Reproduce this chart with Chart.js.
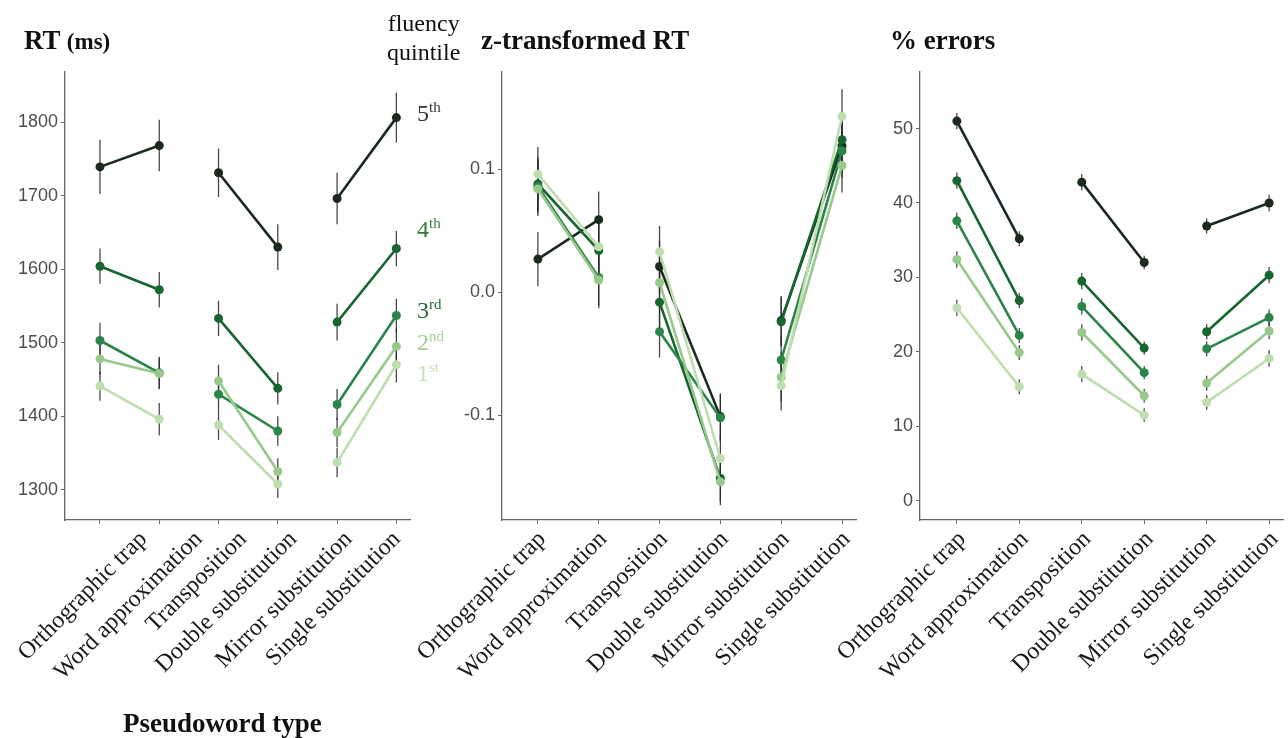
<!DOCTYPE html>
<html lang="en">
<head>
    <meta charset="UTF-8">
    <title>Pseudoword type by fluency quintile</title>
    <script src="https://cdn.jsdelivr.net/npm/chart.js"></script>
    <style>
        body {
            margin: 0;
            background: #ffffff;
        }

        #wrap {
            position: relative;
            width: 1288px;
            height: 738px;
            overflow: hidden;
        }

        canvas {
            position: absolute;
            left: 0;
            top: 0;
        }

        .txt {
            position: absolute;
            font-family: 'Liberation Serif', 'Times New Roman', serif;
            white-space: nowrap;
            line-height: 1;
        }

        .title {
            font-weight: bold;
            font-size: 27px;
            color: #111;
        }

        .q {
            font-size: 24px;
        }

        .q sup {
            font-size: 15px;
            vertical-align: 9px;
        }
    </style>
</head>
<body>
<div id="wrap">
    <canvas id="rtChart" width="1288" height="738"></canvas>
    <canvas id="zChart" width="1288" height="738"></canvas>
    <canvas id="errChart" width="1288" height="738"></canvas>

    <div class="txt title" style="left:24px; top:27px;">RT <span style="font-size:23px;">(ms)</span></div>
    <div class="txt title" style="left:481px; top:27px;">z-transformed RT</div>
    <div class="txt title" style="left:890px; top:27px;">% errors</div>
    <div class="txt" style="left:387px; top:9px; font-size:24px; color:#111; text-align:center; line-height:29px;">fluency<br>quintile</div>

    <div class="txt q" style="left:417px; top:100px; color:#333333;">5<sup>th</sup></div>
    <div class="txt q" style="left:417px; top:216px; color:#2d7a3c;">4<sup>th</sup></div>
    <div class="txt q" style="left:417px; top:297px; color:#1f6a37;">3<sup>rd</sup></div>
    <div class="txt q" style="left:417px; top:329px; color:#a3cf95;">2<sup>nd</sup></div>
    <div class="txt q" style="left:417px; top:360px; color:#c6e2b7;">1<sup>st</sup></div>

    <div class="txt title" style="left:123px; top:710px;">Pseudoword type</div>
</div>

<script>
    // categories and series
    const categories = ['Orthographic trap', 'Word approximation', 'Transposition',
        'Double substitution', 'Mirror substitution', 'Single substitution'];
    const quintiles = ['1st', '2nd', '3rd', '4th', '5th'];
    const colors = ['#bedeaf', '#96c98a', '#2b8548', '#17652f', '#1b2a1e'];

    // RT (ms)
    const rt1 = [1441, 1396, 1388, 1308, 1337, 1470];
    const rt2 = [1478, 1458, 1448, 1325, 1378, 1495];
    const rt3 = [1503, 1459, 1430, 1380, 1416, 1537];
    const rt4 = [1604, 1572, 1533, 1438, 1528, 1628];
    const rt5 = [1739, 1768, 1731, 1630, 1696, 1806];
    const rtSe1 = [20, 22, 20, 19, 20, 24];
    const rtSe2 = [22, 21, 22, 18, 20, 24];
    const rtSe3 = [24, 22, 22, 20, 21, 23];
    const rtSe4 = [24, 24, 24, 22, 25, 24];
    const rtSe5 = [37, 35, 33, 31, 35, 34];
    const rtTicks = [1300, 1400, 1500, 1600, 1700, 1800];

    // z-transformed RT
    const z1 = [0.096, 0.037, 0.033, -0.135, -0.076, 0.143];
    const z2 = [0.084, 0.010, 0.008, -0.154, -0.069, 0.103];
    const z3 = [0.086, 0.012, -0.032, -0.102, -0.055, 0.115];
    const z4 = [0.088, 0.034, -0.008, -0.151, -0.024, 0.124];
    const z5 = [0.027, 0.059, 0.021, -0.101, -0.023, 0.119];
    const zSe = [0.022, 0.023, 0.021, 0.019, 0.020, 0.022];
    const zTicks = [-0.1, 0.0, 0.1];

    // % errors
    const e1 = [25.9, 15.3, 17.0, 11.5, 13.2, 19.1];
    const e2 = [32.4, 19.9, 22.6, 14.1, 15.8, 22.8];
    const e3 = [37.6, 22.2, 26.1, 17.2, 20.4, 24.6];
    const e4 = [43.0, 26.9, 29.5, 20.5, 22.7, 30.3];
    const e5 = [51.0, 35.2, 42.8, 32.0, 36.9, 40.0];
    const errSe = [1.1, 1.0, 1.1, 0.9, 1.0, 1.1];
    const errTicks = [0, 10, 20, 30, 40, 50];

    // vertical error bars behind the points
    const errorBars = {
        id: 'errorBars',
        beforeDatasetsDraw(chart) {
            const ctx = chart.ctx;
            const yScale = chart.scales.y;
            ctx.save();
            ctx.strokeStyle = 'rgba(40,40,40,0.85)';
            ctx.lineWidth = 1.3;
            chart.data.datasets.forEach((ds, di) => {
                const meta = chart.getDatasetMeta(di);
                ds.data.forEach((p, i) => {
                    const se = ds.se[i];
                    const x = meta.data[i].x;
                    ctx.beginPath();
                    ctx.moveTo(x, yScale.getPixelForValue(p.y - se));
                    ctx.lineTo(x, yScale.getPixelForValue(p.y + se));
                    ctx.stroke();
                });
            });
            ctx.restore();
        }
    };

    // slanted category labels under the x axis
    const slantLabels = {
        id: 'slantLabels',
        afterDraw(chart, args, opts) {
            const s = chart.scales.x;
            const ctx = chart.ctx;
            ctx.save();
            ctx.font = '24px "Liberation Serif", serif';
            ctx.fillStyle = '#1a1a1a';
            ctx.textAlign = 'right';
            ctx.textBaseline = 'top';
            categories.forEach((c, i) => {
                ctx.save();
                ctx.translate(s.getPixelForValue(i) + opts.shift[i], s.top + 7);
                ctx.rotate(-45 * Math.PI / 180);
                ctx.fillText(c, 0, 0);
                ctx.restore();
            });
            ctx.restore();
        }
    };

    function makeSets(series, ses) {
        return series.map((vals, q) => ({
            label: quintiles[q],
            data: vals.map((v, i) => ({ x: i, y: v })),
            se: ses[q],
            borderColor: colors[q],
            backgroundColor: colors[q],
            borderWidth: 2.6,
            pointRadius: 4.5,
            pointBorderWidth: 0,
            segment: {
                borderColor: c => c.p0DataIndex % 2 === 1 ? 'transparent' : undefined
            }
        }));
    }

    function makeChart(id, sets, yMin, yMax, yTicks, yFmt, left, yWidth, right, shift) {
        return new Chart(document.getElementById(id), {
            type: 'line',
            data: { datasets: sets },
            plugins: [errorBars, slantLabels],
            options: {
                responsive: false,
                animation: false,
                layout: { padding: { left: left, right: right, top: 72, bottom: 0 } },
                plugins: {
                    legend: { display: false },
                    tooltip: { enabled: false },
                    slantLabels: { shift: shift }
                },
                scales: {
                    x: {
                        type: 'linear',
                        min: -0.59,
                        max: 5.23,
                        afterBuildTicks: s => { s.ticks = categories.map((c, i) => ({ value: i })); },
                        afterFit: s => { s.height = 218; s.paddingLeft = 0; s.paddingRight = 0; },
                        border: { display: true, color: '#666', width: 1.3 },
                        grid: { display: true, drawOnChartArea: false, drawTicks: true, tickLength: 4, color: '#666' },
                        ticks: { display: false }
                    },
                    y: {
                        min: yMin,
                        max: yMax,
                        afterBuildTicks: s => { s.ticks = yTicks.map(v => ({ value: v })); },
                        afterFit: s => { s.width = yWidth; s.paddingTop = 0; s.paddingBottom = 0; },
                        border: { display: true, color: '#666', width: 1.3 },
                        grid: { display: true, drawOnChartArea: false, drawTicks: true, tickLength: 4, color: '#666' },
                        ticks: {
                            padding: 3,
                            color: '#4d4d4d',
                            font: { family: 'Liberation Sans', size: 18 },
                            callback: yFmt
                        }
                    }
                }
            }
        });
    }

    makeChart('rtChart',
        makeSets([rt1, rt2, rt3, rt4, rt5], [rtSe1, rtSe2, rtSe3, rtSe4, rtSe5]),
        1259, 1868, rtTicks, v => String(v), 0, 65, 878, [35, 31, 16, 7, 3, -8]);

    makeChart('zChart',
        makeSets([z1, z2, z3, z4, z5], [zSe, zSe, zSe, zSe, zSe]),
        -0.185, 0.179, zTicks, v => v.toFixed(1), 440, 62, 432, [-4, -4, -4, -4, -4, -4]);

    makeChart('errChart',
        makeSets([e1, e2, e3, e4, e5], [errSe, errSe, errSe, errSe, errSe]),
        -2.6, 57.6, errTicks, v => String(v), 870, 50, 4, [-3, -3, -3, -3, -3, -3]);
</script>
</body>
</html>
